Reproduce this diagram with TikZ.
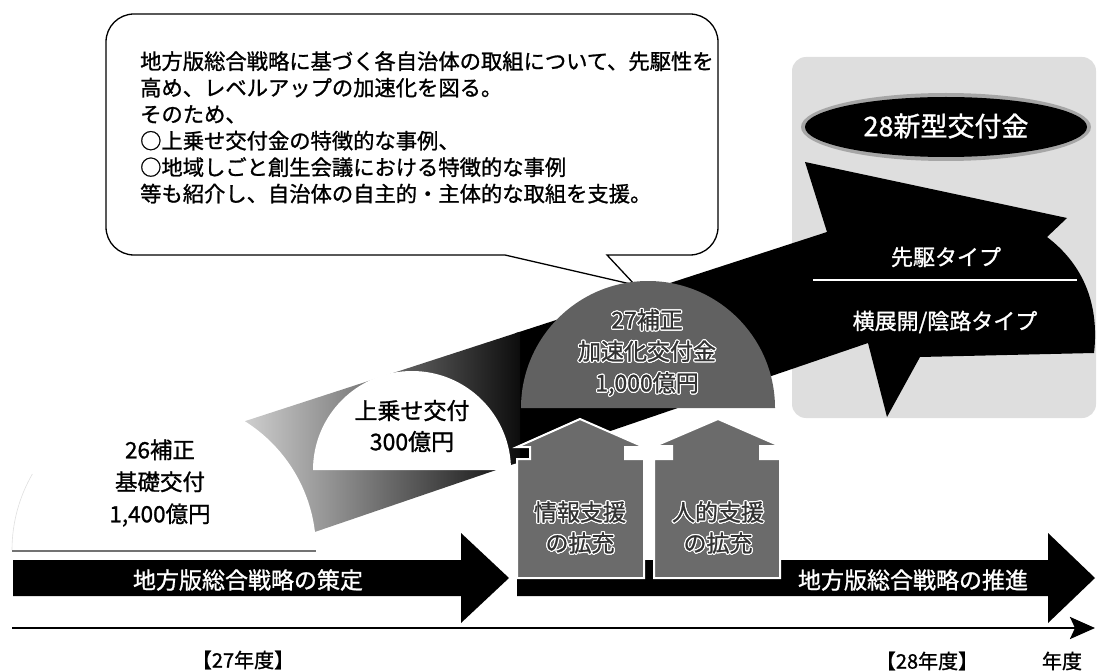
\documentclass[tikz,border=0pt]{standalone}
\usepackage{fontspec}
\setmainfont{Noto Sans CJK JP}[FakeBold=1.1]
\usepackage{contour}
\contourlength{1.1pt}
\usetikzlibrary{arrows.meta}
\newcommand\jpsize[2]{\fontsize{#1}{#2}\selectfont}
\begin{document}
\begin{tikzpicture}[x=1pt,y=1pt,
  wtext/.style={text=white, inner sep=0pt},
  btext/.style={text=black, inner sep=0pt},
  emb/.style={text=black!80, inner sep=0pt, align=center},
  upbox/.style={fill=black!58, draw=white, line width=2pt},
  barstyle/.style={fill=black},
  graybox/.style={fill=black!13, rounded corners=14pt},
  semiwhite/.style={fill=white},
  semigray/.style={fill=black!62},
  callout/.style={draw=black, line width=1.3pt, fill=white}
]
\useasboundingbox (0,0) rectangle (1097,-671);

% light gray panel at top right
\fill[graybox] (792,-57) rectangle (1096,-418);

% big rising arrow with gradient
\begin{scope}
  \clip (230,-426) -- (827,-232) -- (805,-162) -- (1067,-218) -- (1047,-237)
        .. controls (1080,-262) and (1100,-300) .. (1094,-353)
        -- (920,-357) -- (887,-417) -- (868,-343) -- (262,-550) -- cycle;
  \fill[black] (515,-100) rectangle (1097,-600);
  \shade[left color=black!15, right color=black!95] (230,-100) rectangle (520,-600);
\end{scope}

% ellipse 28
\fill[black!35] (946,-127) ellipse[x radius=145, y radius=34];
\fill[black] (946,-127) ellipse[x radius=141, y radius=30];
\node[wtext, font=\jpsize{27}{30}] (shingata) at (946,-126) {28新型交付金};

% arrow head labels
\node[wtext, font=\jpsize{22}{26}] (senku) at (946,-257) {先駆タイプ};
\coordinate (sepL) at (813,-280);
\coordinate (sepR) at (1077,-280);
\draw[white, line width=2pt] (sepL) -- (sepR);
\node[wtext, font=\jpsize{22}{26}] (yoko) at (945,-322) {横展開/陰路タイプ};

% callout
\draw[callout] (106,-42) arc[start angle=180,end angle=90,radius=28]
  -- (690,-14) arc[start angle=90,end angle=0,radius=28]
  -- (718,-227) arc[start angle=0,end angle=-90,radius=28]
  -- (607,-255) -- (635,-285) -- (505,-255) -- (134,-255)
  arc[start angle=270,end angle=180,radius=28] -- cycle;
\node[anchor=north west, align=left, inner sep=0pt, font=\jpsize{21.3}{26.5}] (note) at (140,-51)
 {地方版総合戦略に基づく各自治体の取組について、先駆性を\\高め、レベルアップの加速化を図る。\\そのため、\\○上乗せ交付金の特徴的な事例、\\○地域しごと創生会議における特徴的な事例\\等も紹介し、自治体の自主的・主体的な取組を支援。};

% 26 white half disc
\fill[semiwhite] (12,-550) arc[start angle=180,end angle=0,radius=152] -- cycle;
\draw[black!12, line width=0.6pt] (12,-550) arc[start angle=180,end angle=150,radius=152];
\draw[black!55, line width=2pt] (12,-551) -- (316,-551);
\node[btext, align=center, font=\jpsize{22.5}{32}] (kiso) at (160,-483) {26補正\\基礎交付\\1,400億円};

% 上乗せ half disc
\fill[semiwhite] (313,-470) arc[start angle=180,end angle=0,radius=99] -- cycle;
\node[btext, align=center, font=\jpsize{23}{31}] (uwa) at (412,-426) {上乗せ交付\\300億円};

% 27 half disc
\fill[semigray] (521,-408) arc[start angle=180,end angle=0,radius=127] -- cycle;
\node[emb, font=\jpsize{23}{31.5}] (kasoku) at (647,-353)
  {\contour{white}{27補正}\\\contour{white}{加速化交付金}\\\contour{white}{1,000億円}};

% bottom bars
\fill[barstyle] (13,-560) -- (461,-560) -- (461,-533) -- (509,-578) -- (461,-623) -- (461,-596) -- (13,-596) -- cycle;
\node[wtext, font=\jpsize{23}{26}] (sakutei) at (248,-580) {地方版総合戦略の策定};
\fill[barstyle] (517,-560) -- (1048,-560) -- (1048,-533) -- (1095,-578) -- (1048,-623) -- (1048,-596) -- (517,-596) -- cycle;
\node[wtext, font=\jpsize{23}{26}] (suishin) at (913,-580) {地方版総合戦略の推進};

% up arrows
\filldraw[upbox] (517,-578) -- (517,-459) -- (530,-459) -- (530,-447) -- (517,-447) -- (580,-419)
  -- (644,-447) -- (625,-447) -- (625,-459) -- (644,-459) -- (644,-578) -- cycle;
\filldraw[upbox] (654,-578) -- (654,-459) -- (672,-459) -- (672,-446) -- (655,-446) -- (718,-419)
  -- (780,-446) -- (760,-446) -- (760,-459) -- (780,-459) -- (780,-578) -- cycle;
\node[emb, font=\jpsize{23}{31}] (joho) at (580,-528) {\contour{white}{情報支援}\\\contour{white}{の拡充}};
\node[emb, font=\jpsize{23}{31}] (jinteki) at (718,-528) {\contour{white}{人的支援}\\\contour{white}{の拡充}};

% time axis
\coordinate (ax0) at (12,-628);
\coordinate (ax1) at (1095,-628);
\draw[line width=2.7pt, -{Stealth[length=25pt,width=22pt,inset=5pt]}] (ax0) -- (ax1);
\node[btext, font=\jpsize{20}{24}] (y27) at (243,-660) {【27年度】};
\node[btext, font=\jpsize{20}{24}] (y28) at (927,-661) {【28年度】};
\node[btext, font=\jpsize{20}{24}] (nendo) at (1062,-661) {年度};
\end{tikzpicture}
\end{document}
